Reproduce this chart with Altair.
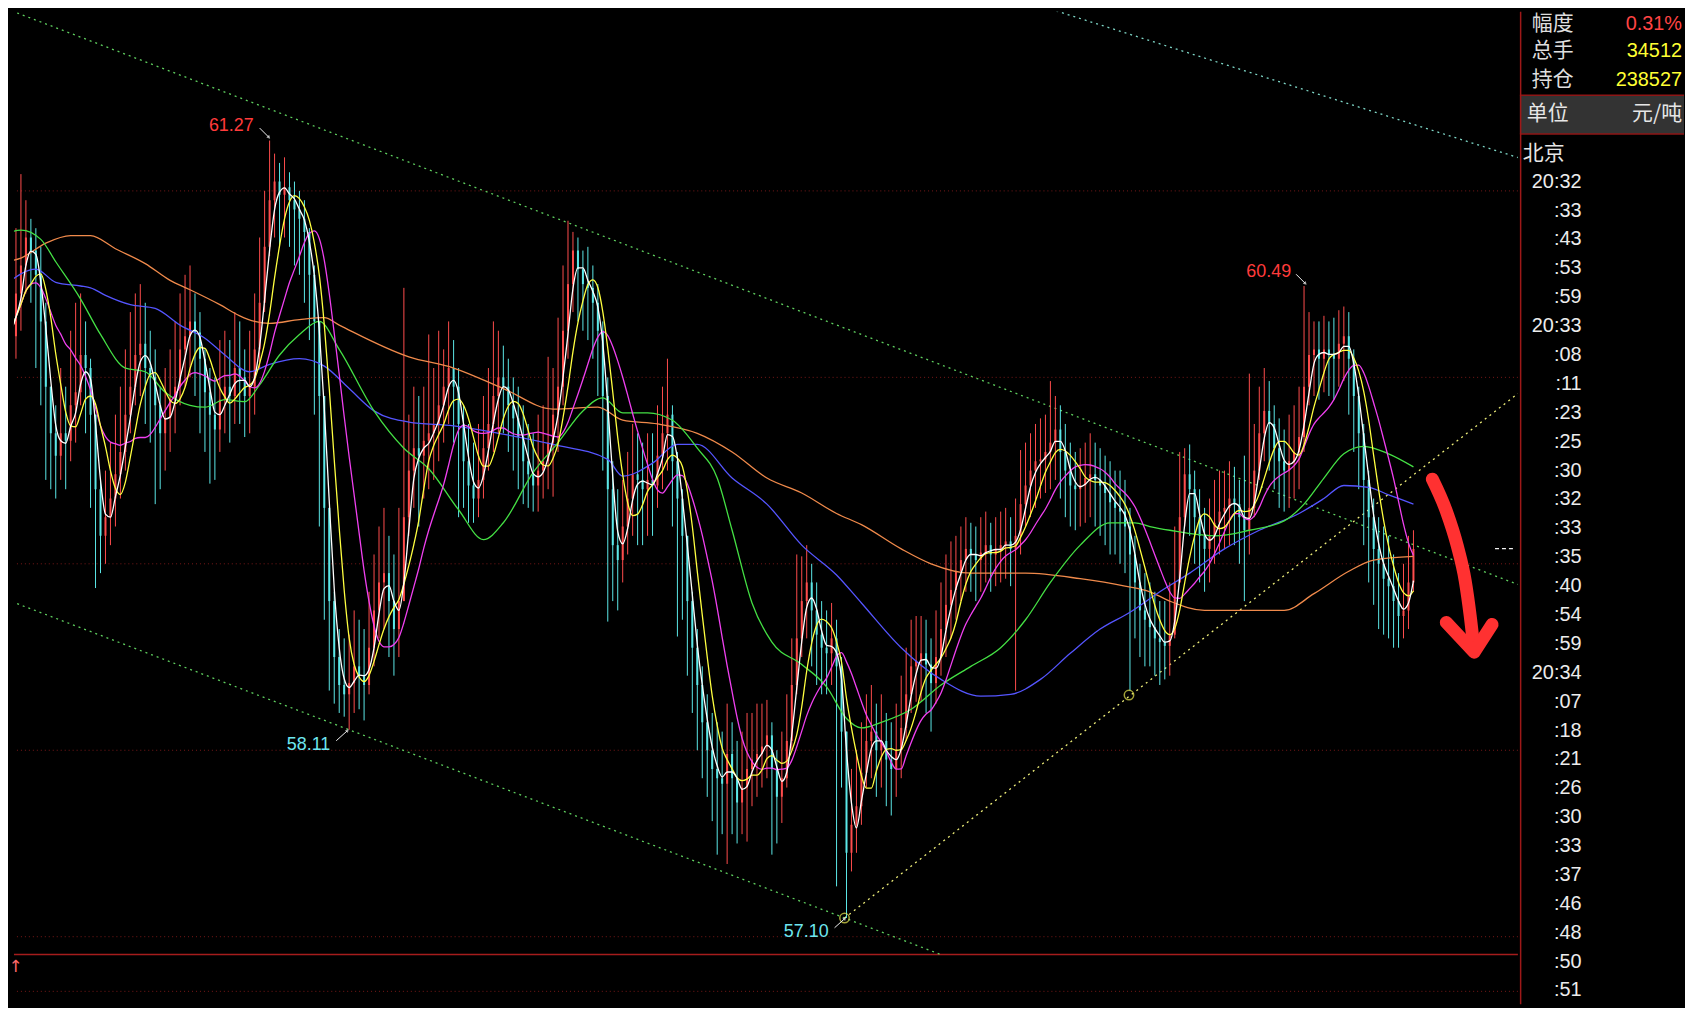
import altair as alt
import pandas as pd

# ---------------- candle data (tick bars) ----------------
close = [
60.30,60.22,60.45,60.60,60.75,60.68,60.55,60.30,59.95,59.70,
59.58,59.70,59.66,59.85,59.92,60.12,60.05,59.80,59.40,59.15,
59.25,59.35,59.48,59.60,59.80,59.95,60.12,60.18,60.05,60.00,
59.85,59.70,59.78,59.88,59.95,60.15,60.22,60.30,60.24,60.10,
59.92,59.80,59.72,59.88,59.95,59.90,60.05,60.00,59.90,59.95,
60.15,60.40,60.70,60.95,61.05,60.98,61.02,60.95,60.90,60.85,
60.78,60.55,60.30,59.90,59.30,58.80,58.50,58.35,58.30,58.36,
58.45,58.40,58.35,58.55,58.75,58.90,58.95,58.80,58.65,58.80,
59.25,59.50,59.62,59.58,59.66,59.70,59.75,59.85,59.95,60.05,
59.95,59.75,59.55,59.42,59.35,59.45,59.62,59.75,59.90,60.00,
59.95,59.85,59.78,59.68,59.55,59.48,59.42,59.50,59.55,59.65,
59.80,59.95,60.25,60.50,60.68,60.58,60.50,60.48,60.40,60.25,
59.90,59.40,59.10,59.02,59.20,59.35,59.48,59.45,59.40,59.45,
59.42,59.58,59.70,59.80,59.55,59.35,59.15,58.80,58.55,58.35,
58.15,58.00,57.90,57.85,57.82,57.98,57.85,57.72,57.80,57.90,
57.95,57.98,58.02,58.08,57.90,57.75,57.85,58.05,58.35,58.60,
58.80,58.90,58.75,58.62,58.55,58.52,58.60,58.45,58.10,57.45,
57.60,57.70,57.88,58.05,58.10,58.00,58.05,57.95,57.90,58.00,
58.12,58.30,58.45,58.48,58.52,58.46,58.36,58.50,58.65,58.78,
58.86,58.96,59.02,59.08,59.05,59.02,59.06,59.10,59.05,59.08,
59.10,59.12,59.08,59.15,59.32,59.42,59.50,59.55,59.56,59.60,
59.65,59.72,59.60,59.50,59.42,59.40,59.42,59.46,59.48,59.45,
59.42,59.38,59.33,59.30,59.28,59.20,59.05,58.90,58.75,58.70,
58.66,58.60,58.58,58.56,58.62,58.90,59.25,59.48,59.40,59.25,
59.15,59.08,59.15,59.22,59.28,59.30,59.35,59.32,59.25,59.18,
59.30,59.50,59.70,59.82,59.75,59.62,59.55,59.50,59.55,59.60,
59.68,59.95,60.12,60.15,60.10,60.15,60.12,60.10,60.18,60.22,
60.10,59.90,59.70,59.45,59.25,59.08,59.00,58.92,58.88,58.80,
58.72,58.75,58.90,59.08]

high = [
60.55,60.45,60.80,61.09,60.95,60.85,60.80,60.70,60.40,59.95,
59.85,60.05,59.95,60.25,60.40,60.45,60.30,60.10,59.65,59.45,
59.50,59.65,59.80,59.95,60.15,60.35,60.45,60.50,60.40,60.25,
60.15,59.95,60.05,60.15,60.30,60.45,60.55,60.60,60.45,60.35,
60.15,60.05,60.00,60.20,60.25,60.20,60.35,60.30,60.15,60.25,
60.45,60.75,61.00,61.27,61.20,61.15,61.18,61.10,61.05,61.00,
60.95,60.80,60.60,60.30,59.80,59.20,58.85,58.65,58.60,58.62,
58.75,58.70,58.65,58.85,59.05,59.20,59.30,59.15,59.05,59.30,
60.48,59.80,59.95,59.90,59.95,60.23,60.05,60.25,60.15,60.30,
60.20,60.05,59.85,59.75,59.65,59.75,59.90,60.05,60.30,60.25,
60.17,60.10,60.00,59.95,59.85,59.75,59.70,59.80,59.85,60.11,
60.05,60.32,60.60,60.84,60.78,60.75,60.68,60.70,60.60,60.50,
60.30,60.00,59.55,59.40,59.45,59.60,59.75,59.70,59.65,59.70,
59.70,59.85,59.95,60.10,59.85,59.60,59.40,59.15,58.85,58.65,
58.45,58.30,58.20,58.15,58.10,58.25,58.15,58.05,58.10,58.20,
58.20,58.25,58.25,58.27,58.15,58.00,58.10,58.30,58.60,59.05,
59.04,59.10,59.00,58.90,58.80,58.75,58.79,58.70,58.50,58.00,
57.90,58.00,58.15,58.30,58.35,58.25,58.30,58.20,58.15,58.25,
58.40,58.55,58.70,58.72,58.72,58.70,58.60,58.75,58.90,59.05,
59.12,59.15,59.20,59.25,59.22,59.20,59.25,59.28,59.22,59.25,
59.28,59.30,59.25,59.35,59.61,59.65,59.70,59.75,59.78,59.80,
59.98,59.90,59.85,59.75,59.65,59.60,59.62,59.65,59.70,59.65,
59.62,59.58,59.55,59.50,59.50,59.45,59.30,59.15,59.00,58.95,
58.90,58.85,58.80,58.80,58.90,59.20,59.60,59.62,59.64,59.50,
59.40,59.30,59.35,59.45,59.50,59.50,59.55,59.52,59.45,59.58,
60.02,59.75,59.95,60.05,59.98,59.85,59.78,59.72,59.80,59.85,
59.95,60.49,60.35,60.30,60.30,60.33,60.30,60.32,60.36,60.38,
60.35,60.15,59.95,59.75,59.50,59.35,59.25,59.20,59.15,59.05,
58.95,59.00,59.15,59.18]

low = [
59.95,60.00,60.10,60.25,60.45,60.40,60.05,59.85,59.45,59.40,
59.35,59.45,59.40,59.55,59.65,59.85,59.70,59.30,58.87,58.95,
59.00,59.10,59.20,59.35,59.50,59.70,59.85,59.90,59.75,59.65,
59.32,59.40,59.50,59.60,59.70,59.85,59.95,60.00,59.90,59.70,
59.60,59.43,59.45,59.60,59.70,59.65,59.75,59.75,59.68,59.70,
59.80,60.05,60.35,60.65,60.75,60.70,60.75,60.70,60.60,60.55,
60.40,60.20,59.80,59.20,58.70,58.32,58.25,58.20,58.18,58.11,
58.20,58.22,58.16,58.30,58.45,58.60,58.65,58.50,58.40,58.50,
58.80,59.15,59.30,59.20,59.35,59.40,59.45,59.55,59.65,59.75,
59.65,59.25,59.30,59.22,59.22,59.25,59.35,59.50,59.60,59.70,
59.70,59.60,59.50,59.40,59.32,59.30,59.28,59.28,59.35,59.40,
59.36,59.60,59.85,60.10,60.35,60.30,60.25,60.20,60.10,59.90,
59.50,58.69,58.80,58.75,58.90,59.05,59.15,59.10,59.10,59.15,
59.15,59.30,59.40,59.50,59.20,58.61,58.70,58.40,58.20,58.00,
57.85,57.75,57.62,57.44,57.55,57.39,57.55,57.50,57.55,57.51,
57.70,57.75,57.80,57.85,57.44,57.50,57.61,57.80,58.00,58.30,
58.50,58.60,58.45,58.35,58.30,58.30,58.35,57.27,57.80,57.10,
57.35,57.45,57.60,57.80,57.85,57.75,57.80,57.70,57.65,57.75,
57.85,58.05,58.20,58.26,58.26,58.20,58.10,58.25,58.40,58.50,
58.60,58.70,58.80,58.85,58.85,58.80,58.85,58.90,58.85,58.88,
58.90,58.92,58.88,58.32,59.05,59.20,59.25,59.30,59.35,59.38,
59.40,59.45,59.35,59.25,59.20,59.18,59.20,59.22,59.25,59.20,
59.15,59.10,59.05,59.05,59.00,58.95,58.32,58.60,58.50,58.45,
58.45,58.40,58.35,58.38,58.40,58.60,58.95,59.20,59.15,59.00,
58.90,58.85,58.90,59.00,59.05,59.08,59.10,59.10,59.00,58.80,
59.05,59.25,59.45,59.55,59.50,59.40,59.30,59.28,59.30,59.35,
59.40,59.60,59.85,59.90,59.88,59.92,59.90,59.88,59.95,59.98,
59.80,59.60,59.40,59.10,58.90,58.78,58.65,58.62,58.60,58.55,
58.55,58.60,58.65,58.85]

first_open = 60.20

# ---------------- slow moving averages ----------------
green_i = [0,3,7,10,15,19,24,28,32,37,40,44,48,51,55,59,63,67,74,80,85,91,96,100,106,111,116,120,124,129,134,139,143,146,150,154,160,165,169,172,176,182,188,194,200,205,210,216,222,227,230,234,243,250,257,261,265,269,273,278,283]
green_p = [60.77,60.79,60.74,60.62,60.42,60.23,60.05,60.03,59.92,59.85,59.84,59.88,59.87,59.96,60.12,60.23,60.30,60.15,59.82,59.62,59.51,59.29,59.13,59.22,59.49,59.65,59.82,59.89,59.81,59.81,59.77,59.62,59.46,59.18,58.79,58.58,58.46,58.34,58.17,58.12,58.15,58.22,58.35,58.45,58.55,58.70,58.90,59.10,59.22,59.22,59.20,59.18,59.15,59.18,59.23,59.32,59.46,59.59,59.63,59.59,59.52]

blue_i = [0,6,10,15,17,20,25,30,35,40,44,49,53,59,64,69,74,81,90,99,110,121,124,130,135,139,146,153,160,167,172,180,188,196,202,208,214,220,226,232,238,245,252,260,265,269,274,278,283]
blue_p = [60.50,60.58,60.51,60.49,60.48,60.44,60.39,60.37,60.28,60.21,60.12,60.03,60.07,60.10,60.06,59.94,59.82,59.76,59.74,59.70,59.64,59.56,59.47,59.54,59.64,59.64,59.46,59.32,59.10,58.94,58.79,58.55,58.38,58.29,58.30,58.38,58.52,58.65,58.74,58.85,58.95,59.08,59.18,59.27,59.35,59.42,59.41,59.37,59.32]

orange_i = [0,3,8,13,17,22,28,33,37,43,47,50,53,59,64,67,81,90,100,110,119,124,131,139,146,153,160,167,172,180,186,194,205,216,225,230,234,241,257,263,270,275,283]
orange_p = [60.62,60.64,60.72,60.76,60.76,60.69,60.61,60.52,60.47,60.39,60.33,60.30,60.29,60.31,60.32,60.28,60.11,60.05,59.94,59.83,59.84,59.77,59.75,59.70,59.60,59.46,59.38,59.27,59.21,59.08,59.00,58.95,58.95,58.92,58.88,58.85,58.80,58.75,58.75,58.84,58.96,59.02,59.04]

# ---------------- drawn lines ----------------
chan_up_i, chan_up_p = [0, 304], [61.977, 58.889]
chan_lo_i, chan_lo_p = [0, 188], [58.809, 56.904]
chan_top_i, chan_top_p = [206.6, 304], [62.004, 61.179]
support_i, support_p = [168.6, 304], [57.10, 59.913]
touch_i, touch_p = [168.6, 225.8], [57.10, 58.296]
grid_p = [57, 58, 59, 60, 61]
sep_p = 56.904
sub_p = 56.707
mark_i, mark_p = [1.9], [56.835]

label_text = ["61.27", "60.49", "58.11", "57.10"]
label_kind = ["hi", "hi", "lo", "lo"]
label_i = [49.8, 258.4, 65.2, 165.4]
label_p = [61.348, 60.564, 58.030, 57.027]
arrow_i1 = [51.0, 259.4, 66.4, 166.6]
arrow_p1 = [61.337, 60.553, 58.051, 57.048]
arrow_i2 = [52.8, 261.2, 68.6, 168.6]
arrow_p2 = [61.289, 60.505, 58.104, 57.096]
arrow_angle = [135, 135, 45, 45]

last_i1, last_i2, last_p = 299.4, 303.6, 59.081

hand_i = [286.8, 289.6, 291.8, 293.4, 294.4, 295.2]
hand_p = [59.454, 59.283, 59.097, 58.910, 58.723, 58.536]
head_i = [289.6, 295.2, 298.8]
head_p = [58.686, 58.526, 58.675]

# ---------------- right panel text ----------------
info_label = ["幅度", "总手", "持仓"]
info_value = ["0.31%", "34512", "238527"]
info_row = [-0.46, 0.489, 1.488]
unit_label, unit_value, unit_row = "单位", "元/吨", 2.658
unit_box = [2.004, 3.347]
city, city_row = "北京", 4.036
times = ["20:32", ":33", ":43", ":53", ":59", "20:33", ":08", ":11", ":23", ":25",
         ":30", ":32", ":33", ":35", ":40", ":54", ":59", "20:34", ":07", ":18",
         ":21", ":26", ":30", ":33", ":37", ":46", ":48", ":50", ":51", ":55"]
time_row = list(range(5, 5 + len(times)))

# ---------------- styling ----------------
RED = "#ff4d4d"
CYAN = "#5ce8e8"
W_MAIN, W_PANEL, H = 1512, 165, 998
NUMFONT = "Liberation Sans"
CJK = "Noto Sans CJK SC"

xs = alt.Scale(domain=[1.6, 304.0], nice=False, zero=False)
ys = alt.Scale(domain=[56.6373, 61.9613], nice=False, zero=False)


def X(f):
    return alt.X(f, type="quantitative", scale=xs, axis=None)


def Y(f):
    return alt.Y(f, type="quantitative", scale=ys, axis=None)


n = len(close)
opens = [first_open] + close[:-1]
hi = [max(h, o, c) for h, o, c in zip(high, opens, close)]
lo = [min(l, o, c) for l, o, c in zip(low, opens, close)]
dirs = ["up" if c >= o else "dn" for o, c in zip(opens, close)]
cdf = pd.DataFrame({"i": list(range(n)), "open": opens, "close": close,
                    "high": hi, "low": lo, "dir": dirs})

color_enc = alt.Color("dir:N", scale=alt.Scale(domain=["up", "dn"], range=[RED, CYAN]), legend=None)

grid = alt.Chart(pd.DataFrame({"p": grid_p + [sub_p]})).mark_rule(
    color="#7a1818", strokeDash=[1, 3], strokeWidth=1).encode(y=Y("p"))
sep = alt.Chart(pd.DataFrame({"p": [sep_p]})).mark_rule(
    color="#a51c1c", strokeWidth=1.5).encode(y=Y("p"))
sub_mark = alt.Chart(pd.DataFrame({"i": mark_i, "p": mark_p})).mark_text(
    text="↑", color="#ff6a6a", fontSize=17, font="DejaVu Sans", baseline="middle"
).encode(x=X("i"), y=Y("p"))

wicks = alt.Chart(cdf).mark_rule(strokeWidth=1, clip=True).encode(
    x=X("i"), y=Y("low"), y2="high", color=color_enc)
bodies = alt.Chart(cdf).mark_rule(strokeWidth=2, clip=True).encode(
    x=X("i"), y=Y("open"), y2="close", color=color_enc)


def ma_line(win, color):
    return alt.Chart(cdf).transform_window(
        m="mean(close)", frame=[-(win - 1), 0], sort=[alt.SortField("i")]
    ).mark_line(color=color, strokeWidth=1.3, clip=True, interpolate="monotone").encode(x=X("i"), y=Y("m"))


def typed_line(ii, pp, color):
    return alt.Chart(pd.DataFrame({"i": ii, "p": pp})).mark_line(
        color=color, strokeWidth=1.3, clip=True, interpolate="monotone").encode(x=X("i"), y=Y("p"))


def dotted(ii, pp, color):
    return alt.Chart(pd.DataFrame({"i": ii, "p": pp})).mark_line(
        color=color, strokeWidth=1.3, strokeDash=[2, 4], clip=True).encode(x=X("i"), y=Y("p"))


orange = typed_line(orange_i, orange_p, "#f08a4b")
blue = typed_line(blue_i, blue_p, "#5555ff")
green = typed_line(green_i, green_p, "#44e044")
magenta = ma_line(12, "#f040f0")
yellow = ma_line(6, "#ffff40")
white = ma_line(3, "#ffffff")

up_ch = dotted(chan_up_i, chan_up_p, "#5fcf5f")
lo_ch = dotted(chan_lo_i, chan_lo_p, "#5fcf5f")
top_ch = dotted(chan_top_i, chan_top_p, "#7fd8c8")
sup = dotted(support_i, support_p, "#f0f07a")

touch = alt.Chart(pd.DataFrame({"i": touch_i, "p": touch_p})).mark_point(
    shape="circle", filled=False, size=90, color="#e8e850", strokeWidth=1.5, clip=True
).encode(x=X("i"), y=Y("p"))

ldf = pd.DataFrame({"t": label_text, "k": label_kind, "i": label_i, "p": label_p,
                    "i1": arrow_i1, "p1": arrow_p1, "i2": arrow_i2, "p2": arrow_p2,
                    "a": arrow_angle})
lab_hi = alt.Chart(ldf).transform_filter(alt.datum.k == "hi").mark_text(
    align="right", baseline="middle", font=NUMFONT, fontSize=18, color="#ff3b3b"
).encode(x=X("i"), y=Y("p"), text="t:N")
lab_lo = alt.Chart(ldf).transform_filter(alt.datum.k == "lo").mark_text(
    align="right", baseline="middle", font=NUMFONT, fontSize=18, color="#6ee6f0"
).encode(x=X("i"), y=Y("p"), text="t:N")
arr = alt.Chart(ldf).mark_rule(color="#f0f0f0", strokeWidth=1).encode(
    x=X("i1"), x2="i2", y=Y("p1"), y2="p2")
arr_head = alt.Chart(ldf).mark_point(shape="triangle", filled=True, size=16, color="#f0f0f0").encode(
    x=X("i2"), y=Y("p2"), angle=alt.Angle("a:Q", scale=None))

last = alt.Chart(pd.DataFrame({"i1": [last_i1], "i2": [last_i2], "p": [last_p]})).mark_rule(
    color="#f0f0f0", strokeDash=[4, 3], strokeWidth=1.2).encode(x=X("i1"), x2="i2", y=Y("p"))

hand = alt.Chart(pd.DataFrame({"i": hand_i, "p": hand_p, "o": list(range(len(hand_i)))})).mark_line(
    color="#ff3131", strokeWidth=13, strokeCap="round", strokeJoin="round", interpolate="monotone"
).encode(x=X("i"), y=Y("p"), order="o:Q")
head = alt.Chart(pd.DataFrame({"i": head_i, "p": head_p, "o": [0, 1, 2]})).mark_line(
    color="#ff3131", strokeWidth=13, strokeCap="round", strokeJoin="round"
).encode(x=X("i"), y=Y("p"), order="o:Q")

main = alt.layer(
    grid, sep, sub_mark, up_ch, lo_ch, top_ch, sup,
    wicks, bodies, orange, blue, green, magenta, yellow, white,
    touch, arr, arr_head, lab_hi, lab_lo, last, hand, head
).properties(width=W_MAIN, height=H)

# ---------------- right panel ----------------
rs = alt.Scale(domain=[-0.888, 33.478], nice=False, zero=False, reverse=True)


def R(f):
    return alt.Y(f, type="quantitative", scale=rs, axis=None)


box = alt.Chart(pd.DataFrame({"r1": [unit_box[0]], "r2": [unit_box[1]]})).mark_rect(
    color="#333333").encode(y=R("r1"), y2="r2", x=alt.value(0), x2=alt.value(W_PANEL))
box_lines = alt.Chart(pd.DataFrame({"r": unit_box})).mark_rule(
    color="#8e1616", strokeWidth=1.5).encode(y=R("r"))
vline = alt.Chart(pd.DataFrame({"r": [0]})).mark_rule(
    color="#9e1818", strokeWidth=1.5).encode(x=alt.value(0.75))

idf = pd.DataFrame({"label": info_label, "value": info_value, "row": info_row})
info_l = alt.Chart(idf).mark_text(align="left", baseline="middle", font=CJK, fontSize=21,
                                  color="#dedede").encode(x=alt.value(12), y=R("row"), text="label:N")
info_v1 = alt.Chart(idf.iloc[:1]).mark_text(align="right", baseline="middle", font=NUMFONT, fontSize=20,
                                            color="#ff4444").encode(x=alt.value(163), y=R("row"), text="value:N")
info_v2 = alt.Chart(idf.iloc[1:]).mark_text(align="right", baseline="middle", font=NUMFONT, fontSize=20,
                                            color="#ffff33").encode(x=alt.value(163), y=R("row"), text="value:N")
udf = pd.DataFrame({"a": [unit_label], "b": [unit_value], "row": [unit_row]})
unit_l = alt.Chart(udf).mark_text(align="left", baseline="middle", font=CJK, fontSize=21,
                                  color="#e6e6e6").encode(x=alt.value(7), y=R("row"), text="a:N")
unit_v = alt.Chart(udf).mark_text(align="right", baseline="middle", font=CJK, fontSize=21,
                                  color="#e6e6e6").encode(x=alt.value(163), y=R("row"), text="b:N")
city_t = alt.Chart(pd.DataFrame({"a": [city], "row": [city_row]})).mark_text(
    align="left", baseline="middle", font=CJK, fontSize=21, color="#e6e6e6"
).encode(x=alt.value(3), y=R("row"), text="a:N")
tdf = pd.DataFrame({"t": times, "row": time_row})
time_t = alt.Chart(tdf).mark_text(align="right", baseline="middle", font=NUMFONT, fontSize=20,
                                  color="#ececec", clip=True).encode(x=alt.value(62), y=R("row"), text="t:N")

panel = alt.layer(box, box_lines, vline, info_l, info_v1, info_v2, unit_l, unit_v, city_t, time_t
                  ).properties(width=W_PANEL, height=H)

chart = alt.hconcat(main, panel, spacing=0).resolve_scale(
    x="independent", y="independent", color="independent"
).properties(padding=0).configure(background="#000000").configure_view(stroke=None)

chart.save("out.html", embed_options={"renderer": "svg", "actions": False})
